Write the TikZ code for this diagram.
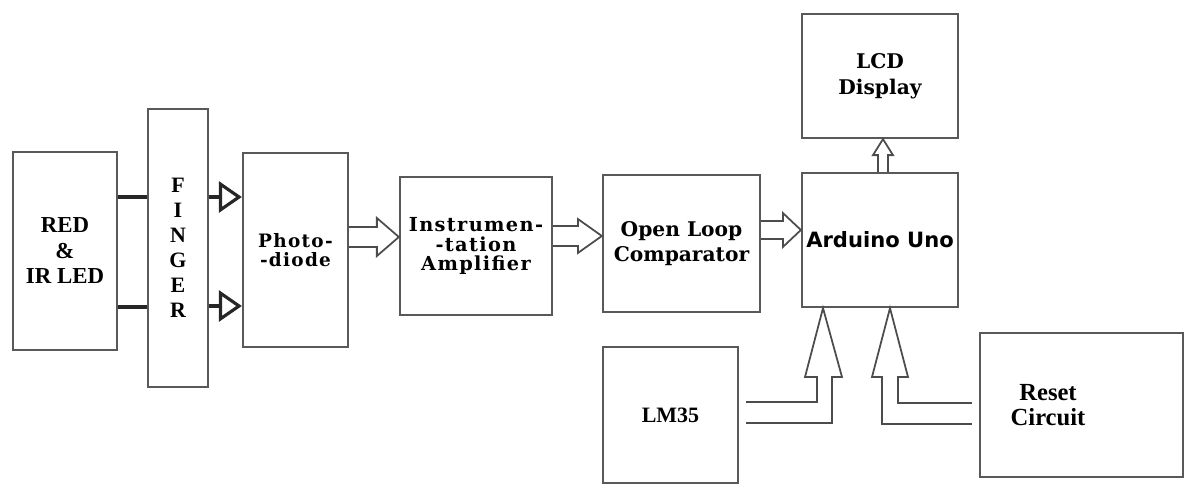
\documentclass[tikz,border=0pt]{standalone}
\usepackage{fontspec}
\setmainfont{Liberation Serif}
\newfontfamily\wideserif{DejaVu Serif}
\newfontfamily\spacedserif[LetterSpace=7]{DejaVu Serif}
\newfontfamily\unosans{DejaVu Sans}
\usetikzlibrary{arrows.meta,calc}

\tikzset{
  block/.style={draw=black!65, line width=1.3pt, inner sep=0pt, align=center},
  fat/.style={draw=black!70, line width=1pt, line join=miter},
  bar/.style={draw=black!85, line width=2.3pt},
  tri/.style={draw=black!85, line width=1.8pt, -{Triangle[open,length=0.46cm,width=0.62cm]}},
}

% freccia cava orizzontale: partenza, punta, mezzo gambo, mezza testa, lunghezza testa
\newcommand{\fatarrow}[5]{%
  \draw[fat] ($(#1)+(0,-#3)$) -- ($(#2)+(-#5,-#3)$) -- ($(#2)+(-#5,-#4)$) -- (#2)
    -- ($(#2)+(-#5,#4)$) -- ($(#2)+(-#5,#3)$) -- ($(#1)+(0,#3)$);}

\begin{document}
\begin{tikzpicture}[x=0.02cm,y=-0.02cm]
    \useasboundingbox (0,0) rectangle (1184,486);

    % --- Blocchi ---
    \node[block, minimum width=2.08cm, minimum height=3.96cm,
          font=\bfseries\fontsize{13}{14.5}\selectfont] (led) at (65,251) {RED\\\&\\IR LED};
    \node[block, minimum width=1.2cm, minimum height=5.56cm,
          font=\bfseries\fontsize{12.5}{14.2}\selectfont] (finger) at (178,248) {F\\I\\N\\G\\E\\R};
    \node[block, minimum width=2.1cm, minimum height=3.88cm,
          font=\spacedserif\bfseries\fontsize{10.5}{11}\selectfont] (photo) at (295.5,250) {Photo-\\-diode};
    \node[block, minimum width=3.04cm, minimum height=2.76cm,
          font=\spacedserif\bfseries\fontsize{11}{11}\selectfont] (instr) at (476,246) {Instrumen-\\-tation\\Amplifier};
    \node[block, minimum width=3.14cm, minimum height=2.74cm,
          font=\wideserif\bfseries\fontsize{11.5}{14.2}\selectfont] (comp) at (681.5,243.5) {Open Loop\\Comparator};
    \node[block, minimum width=3.12cm, minimum height=2.68cm,
          font=\unosans\bfseries\fontsize{12}{14}\selectfont] (arduino) at (880,240) {Arduino Uno};
    \node[block, minimum width=3.12cm, minimum height=2.48cm,
          font=\wideserif\bfseries\fontsize{11.5}{14.8}\selectfont] (lcd) at (880,76) {LCD\\Display};
    \node[block, minimum width=2.7cm, minimum height=2.72cm,
          font=\bfseries\fontsize{12.5}{14}\selectfont] (lm35) at (670.5,415) {LM35};
    \node[block, minimum width=4.06cm, minimum height=2.88cm] (reset) at (1081.5,405) {};
    \node[align=center, font=\bfseries\fontsize{14}{14.2}\selectfont] (resettxt) at (1048,405) {Reset\\Circuit};

    % --- LED verso dito ---
    \draw[bar] (led.east |- 0,197) -- (finger.west |- 0,197);
    \draw[bar] (led.east |- 0,307) -- (finger.west |- 0,307);

    % --- Dito verso fotodiodo ---
    \draw[tri] (finger.east |- 0,197) -- (photo.west |- 0,197);
    \draw[tri] (finger.east |- 0,306) -- (photo.west |- 0,306);

    % --- Frecce cave della catena ---
    \coordinate (p0) at (photo.east |- 0,237);
    \coordinate (p1) at (instr.west |- 0,237);
    \fatarrow{p0}{p1}{10}{19}{22}
    \coordinate (i0) at (instr.east |- 0,236);
    \coordinate (i1) at (comp.west |- 0,236);
    \fatarrow{i0}{i1}{10}{17}{24}
    \coordinate (c0) at (comp.east |- 0,230);
    \coordinate (c1) at (arduino.west |- 0,230);
    \fatarrow{c0}{c1}{9}{17}{18}

    % Arduino verso LCD
    \coordinate (u0) at (arduino.north -| 883,0);
    \coordinate (u1) at (lcd.south -| 883,0);
    \draw[fat] ($(u0)+(-5,0)$) -- ($(u1)+(-5,16)$) -- ($(u1)+(-10,16)$) -- (u1)
        -- ($(u1)+(10,16)$) -- ($(u1)+(5,16)$) -- ($(u0)+(5,0)$);

    % LM35 verso Arduino
    \coordinate (t1) at (arduino.south -| 823,0);
    \draw[fat] ($(lm35.east)+(7,-13)$) -- (817,402) -- (817,377) -- (805,377) -- (t1)
        -- (842,377) -- (832,377) -- (832,423) -- ($(lm35.east)+(7,8)$);

    % Reset verso Arduino
    \coordinate (t2) at (arduino.south -| 890,0);
    \draw[fat] ($(reset.west)+(-7,-2)$) -- (898,403) -- (898,377) -- (908,377) -- (t2)
        -- (872,377) -- (882,377) -- (882,424) -- ($(reset.west)+(-7,19)$);
\end{tikzpicture}
\end{document}
